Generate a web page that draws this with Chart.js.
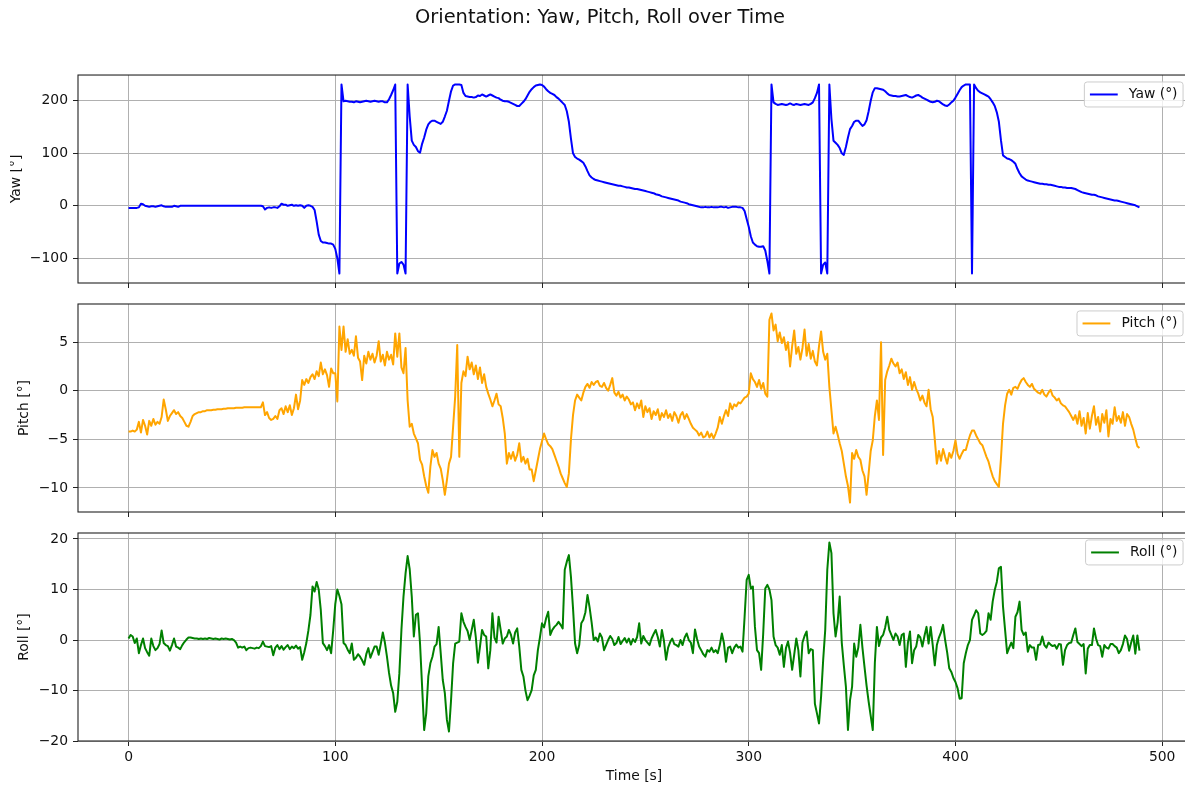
<!DOCTYPE html>
<html>
<head>
<meta charset="utf-8">
<title>Orientation: Yaw, Pitch, Roll over Time</title>
<script src="https://cdn.jsdelivr.net/npm/chart.js@4.4.1/dist/chart.umd.min.js"></script>
<style>
  html, body { margin: 0; padding: 0; background: #fff; }
  #figure { position: relative; width: 1185px; height: 787px; overflow: hidden; background: #fff; }
  #figure canvas { position: absolute; left: 10px; }
</style>
</head>
<body>
<div id="figure">
  <canvas id="yawChart" width="1180" height="301" style="top:0px"></canvas>
  <canvas id="pitchChart" width="1180" height="246" style="top:284px"></canvas>
  <canvas id="rollChart" width="1180" height="274" style="top:513px"></canvas>
</div>
<script>
// one sample per second, t = 0 .. 489 s
const sampleStep = 1;

const timeTicks = [0, 100, 200, 300, 400, 500];
const yawTicks = [-100, 0, 100, 200];
const pitchTicks = [-10, -5, 0, 5];
const rollTicks = [-20, -10, 0, 10, 20];

// Yaw (deg)
const yawDeg = [
  -4,-4,-4,-4,-4,-3,4,3,0,-1,
  -2,-1,-1,-2,-1,0,1,-1,-2,-2,
  -2,-2,0,-1,-2,0,0,0,0,0,
  0,0,0,0,0,0,0,0,0,0,
  0,0,0,0,0,0,0,0,0,0,
  0,0,0,0,0,0,0,0,0,0,
  0,0,0,0,0,-1,-7,-4,-3,-4,
  -3,-3,-4,-1,4,2,2,0,1,2,
  0,1,0,1,0,-4,0,1,0,-2,
  -8,-30,-55,-67,-70,-70,-71,-72,-72,-74,
  -82,-100,-129,231,199,200,199,198,198,197,
  199,198,197,198,199,200,199,198,199,200,
  199,198,199,199,197,197,203,211,220,231,
  -129,-110,-107,-112,-129,231,170,124,116,112,
  104,101,118,130,145,155,160,162,162,160,
  158,156,160,170,181,200,218,229,231,231,
  231,230,215,209,208,207,207,206,207,210,
  209,212,210,208,210,212,210,208,206,205,
  202,200,199,199,198,196,194,192,190,190,
  194,198,203,210,217,222,226,229,230,231,
  230,227,222,218,215,213,211,207,204,200,
  196,192,180,160,128,100,93,90,88,85,
  82,75,66,58,54,51,49,48,47,46,
  45,44,43,42,41,40,39,38,38,37,
  36,35,35,34,33,32,32,31,30,29,
  28,27,26,25,24,22,21,20,18,17,
  16,15,14,13,12,11,10,8,7,6,
  5,3,2,1,0,-1,-2,-3,-3,-2,
  -3,-3,-2,-3,-3,-3,-2,-2,-3,-2,
  -4,-3,-2,-2,-2,-3,-3,-4,-10,-25,
  -40,-58,-70,-74,-77,-78,-78,-77,-85,-105,
  -129,231,197,194,192,193,194,193,192,193,
  195,193,192,194,193,192,193,194,193,192,
  194,197,205,215,231,-129,-112,-108,-129,231,
  165,124,120,116,110,100,97,112,130,146,
  152,160,162,162,157,152,155,163,180,200,
  216,224,224,223,222,221,218,214,211,210,
  209,209,208,208,209,210,211,209,207,206,
  208,210,211,209,206,204,202,200,198,197,
  198,200,199,196,193,191,190,193,197,200,
  206,213,220,226,229,231,231,231,-129,231,
  224,219,216,214,212,210,208,203,197,190,
  178,160,125,96,93,90,89,87,84,80,
  70,62,56,53,50,48,47,46,45,44,
  43,42,42,41,41,40,40,39,38,37,
  36,36,35,35,34,34,34,33,32,30,
  28,26,25,24,23,22,21,21,20,18,
  17,16,15,14,13,12,11,10,10,9,
  8,7,6,5,4,3,2,1,-1,-3
];

// Pitch (deg)
const pitchDeg = [
  -4.2,-4.2,-4.1,-4.2,-4.0,-3.2,-4.3,-3.0,-3.6,-4.5,
  -3.1,-3.6,-2.9,-3.5,-3.2,-3.4,-2.7,-0.9,-1.9,-3.1,
  -2.6,-2.3,-2.0,-2.4,-2.2,-2.6,-2.8,-3.2,-3.6,-3.7,
  -3.2,-2.6,-2.4,-2.3,-2.2,-2.2,-2.1,-2.1,-2.0,-2.0,
  -2.0,-1.95,-1.95,-1.9,-1.9,-1.9,-1.85,-1.85,-1.8,-1.8,
  -1.8,-1.8,-1.75,-1.75,-1.75,-1.75,-1.7,-1.7,-1.7,-1.7,
  -1.7,-1.7,-1.7,-1.7,-1.7,-1.2,-2.5,-2.2,-2.8,-3.0,
  -2.9,-2.6,-2.9,-2.0,-1.8,-2.4,-1.6,-2.2,-1.5,-2.5,
  -1.8,-0.4,-1.9,-1.0,1.1,0.6,1.2,0.8,1.4,1.7,
  1.2,2.0,1.5,2.9,1.7,2.2,1.6,0.4,2.3,1.8,
  1.8,-1.1,6.6,4.2,6.6,4.0,5.3,3.8,4.2,3.6,
  5.6,3.4,3.0,1.1,3.6,2.8,4.0,3.2,3.8,2.9,
  3.6,5.1,3.0,3.7,2.6,4.0,3.2,3.7,2.7,5.9,
  3.5,5.9,2.4,1.8,4.4,-1.0,-3.7,-3.4,-4.4,-4.9,
  -5.4,-7.1,-7.6,-8.8,-9.8,-10.5,-7.8,-6.1,-6.8,-6.4,
  -7.5,-8.0,-9.2,-10.7,-9.2,-7.5,-6.8,-3.7,-0.6,4.7,
  -6.8,0.8,2.0,1.5,3.5,2.2,2.9,1.7,2.6,1.2,
  2.4,0.8,1.7,0.4,-0.3,-0.9,-1.6,-1.0,-0.3,-1.4,
  -1.6,-2.8,-4.4,-7.5,-6.4,-7.0,-6.3,-7.2,-6.6,-5.4,
  -7.3,-6.8,-7.5,-7.0,-8.1,-8.1,-9.3,-8.2,-7.1,-6.0,
  -5.2,-4.4,-5.0,-5.5,-5.7,-6.0,-6.6,-7.2,-7.8,-8.5,
  -9.0,-9.5,-9.9,-8.5,-5.0,-2.5,-1.0,-0.4,-0.7,-1.0,
  -0.2,0.4,0.7,0.3,0.9,0.6,0.9,1.0,0.5,0.4,
  0.8,0.3,0.0,0.6,1.3,-0.2,-0.5,-0.1,-0.7,-0.4,
  -1.0,-0.6,-0.9,-1.4,-1.2,-2.0,-1.3,-1.8,-1.0,-2.7,
  -1.6,-2.2,-1.8,-2.9,-2.1,-2.5,-1.9,-3.0,-2.3,-2.7,
  -2.0,-2.8,-2.4,-3.1,-2.2,-2.6,-3.3,-2.5,-2.2,-2.9,
  -2.4,-2.9,-3.4,-3.8,-4.0,-4.2,-4.6,-4.3,-4.8,-4.7,
  -4.2,-4.8,-4.4,-4.9,-4.4,-3.8,-2.7,-3.4,-2.6,-2.0,
  -2.6,-1.3,-1.9,-1.4,-1.6,-1.2,-1.3,-1.0,-0.7,-0.6,
  -0.3,1.8,1.2,0.9,0.4,1.1,0.2,0.8,-0.3,-0.6,
  7.3,7.95,6.2,6.8,5.1,6.0,4.9,5.5,4.2,5.0,
  2.5,4.6,6.2,3.8,4.5,3.2,4.4,6.3,3.6,4.8,
  3.3,4.1,3.0,2.6,4.6,6.1,4.0,3.2,3.8,0.4,
  -2.0,-4.4,-3.7,-4.5,-5.4,-6.2,-7.5,-8.8,-9.8,-11.5,
  -6.4,-7.0,-6.1,-6.8,-7.1,-8.2,-8.8,-10.7,-8.5,-6.2,
  -5.1,-2.6,-1.0,-3.0,5.0,-6.6,1.1,2.0,2.6,3.3,
  2.8,2.5,2.9,1.8,2.2,1.2,1.9,0.6,1.4,0.1,
  0.9,0.2,-0.3,-1.0,-0.5,-1.2,-1.6,0.1,-1.9,-2.7,
  -5.0,-7.5,-6.2,-7.2,-6.0,-6.8,-7.5,-6.4,-6.9,-6.2,
  -5.1,-6.5,-7.0,-6.5,-6.1,-6.1,-5.3,-4.6,-4.1,-4.1,
  -4.6,-5.0,-5.4,-5.6,-6.2,-6.8,-7.3,-8.1,-8.8,-9.3,
  -9.6,-9.9,-7.0,-3.4,-1.5,-0.3,0.1,-0.4,0.3,0.4,
  0.2,0.7,1.1,1.3,0.9,0.6,0.4,0.7,0.2,0.0,
  -0.2,-0.3,0.1,-0.4,-0.6,-0.2,0.1,-0.5,-0.7,-1.0,
  -0.8,-1.3,-1.5,-1.6,-1.9,-2.2,-2.6,-3.0,-2.5,-3.4,
  -2.1,-3.6,-2.8,-4.4,-2.3,-3.9,-2.6,-1.6,-3.5,-2.7,
  -4.2,-2.4,-3.3,-2.0,-4.7,-2.9,-3.4,-1.7,-3.1,-2.6,
  -3.3,-2.2,-3.6,-2.4,-2.7,-3.4,-4.0,-4.9,-5.7,-5.9
];

// Roll (deg)
const rollDeg = [
  0.3,1.0,0.7,-0.6,0.3,-2.6,-1.0,0.3,-1.6,-2.4,
  -3.1,0.3,-1.2,-2.0,-1.6,-0.8,1.9,-0.6,-1.0,-1.2,
  -2.1,-1.0,0.3,-1.3,-1.5,-1.8,-1.0,-0.4,0.1,0.5,
  0.5,0.4,0.3,0.3,0.2,0.3,0.2,0.3,0.2,0.4,
  0.3,0.2,0.3,0.2,0.1,0.3,0.2,0.3,0.2,0.1,
  0.2,0.0,-0.5,-1.5,-1.3,-1.5,-1.3,-2.0,-1.6,-1.5,
  -1.6,-1.7,-1.5,-1.6,-1.2,-0.3,-1.2,-1.3,-1.4,-1.2,
  -3.0,-1.5,-1.0,-1.8,-1.2,-1.9,-1.4,-1.0,-1.8,-1.3,
  -1.6,-1.1,-1.7,-1.4,-3.9,-2.4,-0.6,1.9,5.0,10.6,
  9.6,11.5,10.0,5.9,-0.6,-1.2,-2.0,-1.0,-2.6,1.9,
  7.1,10.0,8.7,7.1,-0.6,-1.0,-1.9,-2.6,-0.7,-3.9,
  -3.5,-2.8,-3.3,-4.0,-4.9,-2.8,-1.6,-3.5,-2.4,-1.3,
  -1.3,-2.9,-0.8,1.5,-0.5,-3.3,-6.5,-9.0,-10.5,-14.2,
  -12.2,-6.6,2.0,8.6,13.2,16.6,14.0,8.6,0.7,5.0,
  5.3,-0.7,-9.2,-17.8,-14.5,-7.2,-4.6,-3.3,-1.3,-0.8,
  2.6,-2.6,-7.9,-10.5,-15.8,-18.1,-11.9,-4.6,-0.7,-0.5,
  -0.3,5.3,3.6,2.6,1.8,0.0,2.0,4.0,0.5,-4.5,
  -1.3,2.0,1.0,0.7,-5.6,-2.0,5.3,0.5,-0.5,4.6,
  2.0,-0.7,0.3,0.7,2.0,1.0,-0.7,1.5,2.3,-1.3,
  -5.9,-7.2,-10.0,-11.9,-11.0,-9.9,-7.0,-5.9,-2.0,0.5,
  3.3,2.5,4.3,5.6,1.0,2.0,2.6,3.0,3.6,3.0,
  2.3,13.9,15.5,16.8,12.5,6.3,-0.7,-2.6,-1.0,3.3,
  4.0,5.5,8.9,6.5,3.5,0.0,0.5,-0.3,1.3,0.5,
  -2.0,-1.0,0.0,0.8,0.2,-1.0,-0.6,0.6,-0.8,-0.2,
  0.4,-0.5,0.3,-0.9,0.2,-0.4,0.6,3.3,-0.7,0.8,
  0.0,-0.5,-1.0,0.3,1.2,2.0,0.6,-1.3,2.0,-0.2,
  -3.9,-1.5,-0.4,0.3,-0.8,-1.0,-1.3,0.0,-1.0,0.5,
  1.3,0.0,-0.5,-2.6,2.1,0.2,-1.3,-2.0,-2.8,-3.3,
  -2.0,-2.3,-1.5,-2.4,-2.0,-2.6,-1.0,1.3,-0.6,-4.3,
  -1.5,-1.3,-2.6,-1.5,-0.9,-1.5,-1.3,-2.3,4.6,11.9,
  12.9,10.2,10.6,2.6,-2.0,-2.6,-5.9,1.3,10.2,10.9,
  10.0,7.9,0.7,-1.0,-1.5,-2.9,-1.0,-5.3,-1.6,-0.3,
  -2.5,-5.9,-2.9,0.3,-2.0,-7.2,-0.5,0.8,1.7,-2.6,
  -1.8,-2.0,-12.6,-14.5,-16.5,-11.2,-4.0,2.0,13.9,19.3,
  17.2,5.3,0.7,3.5,8.6,-0.5,-5.0,-9.2,-17.8,-11.9,
  -9.2,-0.7,-3.3,-1.5,3.0,-1.5,-5.3,-9.0,-12.2,-15.0,
  -17.8,-4.6,2.6,-1.2,0.5,1.0,2.5,4.6,2.0,1.0,
  0.0,1.3,0.7,-1.0,1.0,1.3,-5.3,-0.5,1.7,-4.6,
  -2.0,-1.3,1.0,0.5,-1.3,0.8,2.6,-0.7,2.6,-1.0,
  -5.0,-1.0,0.5,1.5,3.0,0.0,-2.5,-5.6,-6.3,-7.5,
  -8.3,-9.5,-11.6,-11.5,-4.6,-2.6,-1.0,0.0,4.0,4.9,
  5.9,5.3,1.3,1.0,1.3,1.8,5.3,4.0,7.6,9.9,
  11.5,14.2,14.5,6.6,2.0,-2.6,-1.5,-0.5,-1.6,4.6,
  5.5,7.6,2.0,1.0,1.5,-2.3,-1.0,-1.5,-1.5,-3.9,
  -1.0,-0.9,0.7,-1.0,-1.5,-0.5,-0.9,-1.2,-1.0,-1.7,
  -0.8,-0.9,-4.9,-2.0,-1.0,-0.6,-0.5,1.0,2.3,-0.4,
  -0.8,-1.2,-0.8,-6.6,-1.7,-1.0,-1.0,2.3,0.3,-1.0,
  -1.2,-3.3,-1.0,-1.5,-1.7,-0.8,-0.8,-1.2,-1.5,-2.6,
  -2.0,-0.8,0.9,0.2,-2.1,-0.5,0.9,-2.7,0.9,-2.1
];

const FONT = '"DejaVu Sans", sans-serif';
const TEXT = '#111';
Chart.defaults.font.family = FONT;
Chart.defaults.font.size = 13.9;
Chart.defaults.color = TEXT;

// matplotlib style 5% margins
function padRange(lo, hi) {
  const m = (hi - lo) * 0.05;
  return [lo - m, hi + m];
}
const [tMin, tMax] = padRange(0, (yawDeg.length - 1) * sampleStep);

function fmtTick(v) {
  return v < 0 ? '\u2212' + Math.abs(v) : String(v);
}

// frame on all four sides + legend box in the upper right corner
const axesDecor = {
  id: 'axesDecor',
  afterDatasetsDraw(chart) {
    const { ctx, chartArea: a } = chart;
    ctx.save();
    ctx.strokeStyle = '#222';
    ctx.lineWidth = 1.1;
    ctx.strokeRect(a.left, a.top, a.right - a.left, a.bottom - a.top);
    ctx.restore();
  },
  afterDraw(chart) {
    const { ctx, chartArea: a } = chart;
    const ds = chart.data.datasets[0];
    const fs = 13.9;
    ctx.save();
    ctx.font = fs + 'px ' + FONT;
    const textW = ctx.measureText(ds.label).width;
    const pad = 0.4 * fs, handle = 2 * fs, gap = 0.8 * fs;
    const w = pad + handle + gap + textW + pad;
    const h = 25;
    const left = a.right - 0.5 * fs - w;
    const top = a.top + 0.5 * fs;
    ctx.beginPath();
    ctx.roundRect(left, top, w, h, 2.8);
    ctx.fillStyle = 'rgba(255,255,255,0.8)';
    ctx.fill();
    ctx.strokeStyle = '#cccccc';
    ctx.lineWidth = 1;
    ctx.stroke();
    const cy = top + h / 2;
    ctx.beginPath();
    ctx.moveTo(left + pad, cy);
    ctx.lineTo(left + pad + handle, cy);
    ctx.strokeStyle = ds.borderColor;
    ctx.lineWidth = 2;
    ctx.stroke();
    ctx.fillStyle = TEXT;
    ctx.textAlign = 'left';
    ctx.textBaseline = 'middle';
    ctx.fillText(ds.label, left + pad + handle + gap, cy);
    ctx.restore();
  }
};

function makeChart(id, cfg) {
  const [yMin, yMax] = padRange(Math.min(...cfg.values), Math.max(...cfg.values));
  return new Chart(document.getElementById(id), {
    type: 'line',
    data: {
      labels: cfg.values.map((_, i) => i * sampleStep),
      datasets: [{
        label: cfg.label,
        data: cfg.values,
        borderColor: cfg.color,
        borderWidth: 2,
        borderJoinStyle: 'round',
        pointRadius: 0,
        tension: 0,
        fill: false
      }]
    },
    options: {
      responsive: false,
      animation: false,
      devicePixelRatio: 1,
      layout: { padding: { top: cfg.padTop, left: 0, right: 0, bottom: 0 } },
      plugins: {
        legend: { display: false },
        tooltip: { enabled: false },
        title: cfg.suptitle ? {
          display: true,
          text: cfg.suptitle,
          color: TEXT,
          font: { size: 19.44, weight: 'normal' },
          padding: { top: 6.3, bottom: 45.4 }
        } : { display: false }
      },
      scales: {
        x: {
          type: 'linear',
          min: tMin,
          max: tMax,
          afterBuildTicks: s => { s.ticks = timeTicks.map(v => ({ value: v })); },
          afterFit: s => { s.height = cfg.xHeight; },
          grid: { color: '#b0b0b0', lineWidth: 1, tickColor: '#222', tickLength: 5 },
          border: { display: false },
          ticks: { display: cfg.showTime, padding: 3, autoSkip: false, maxRotation: 0, callback: fmtTick },
          title: { display: cfg.showTime, text: 'Time [s]', padding: { top: 0, bottom: 2.7 } }
        },
        y: {
          min: yMin,
          max: yMax,
          afterBuildTicks: s => { s.ticks = cfg.ticks.map(v => ({ value: v })); },
          afterFit: s => { s.width = 68; },
          grid: { color: '#b0b0b0', lineWidth: 1, tickColor: '#222', tickLength: 5 },
          border: { display: false },
          ticks: { padding: 5, autoSkip: false, callback: fmtTick },
          title: { display: true, text: cfg.yTitle, padding: { top: cfg.yTitlePad, bottom: 0 } }
        }
      }
    },
    plugins: [axesDecor]
  });
}

makeChart('yawChart', {
  values: yawDeg, label: 'Yaw (°)', color: '#0000ff', ticks: yawTicks,
  yTitle: 'Yaw [°]', yTitlePad: -1.8, padTop: 0, xHeight: 18, showTime: false,
  suptitle: 'Orientation: Yaw, Pitch, Roll over Time'
});
makeChart('pitchChart', {
  values: pitchDeg, label: 'Pitch (°)', color: '#ffa500', ticks: pitchTicks,
  yTitle: 'Pitch [°]', yTitlePad: 5.9, padTop: 20, xHeight: 18, showTime: false
});
makeChart('rollChart', {
  values: rollDeg, label: 'Roll (°)', color: '#008000', ticks: rollTicks,
  yTitle: 'Roll [°]', yTitlePad: 5.9, padTop: 20, xHeight: 46, showTime: true
});
</script>
</body>
</html>
